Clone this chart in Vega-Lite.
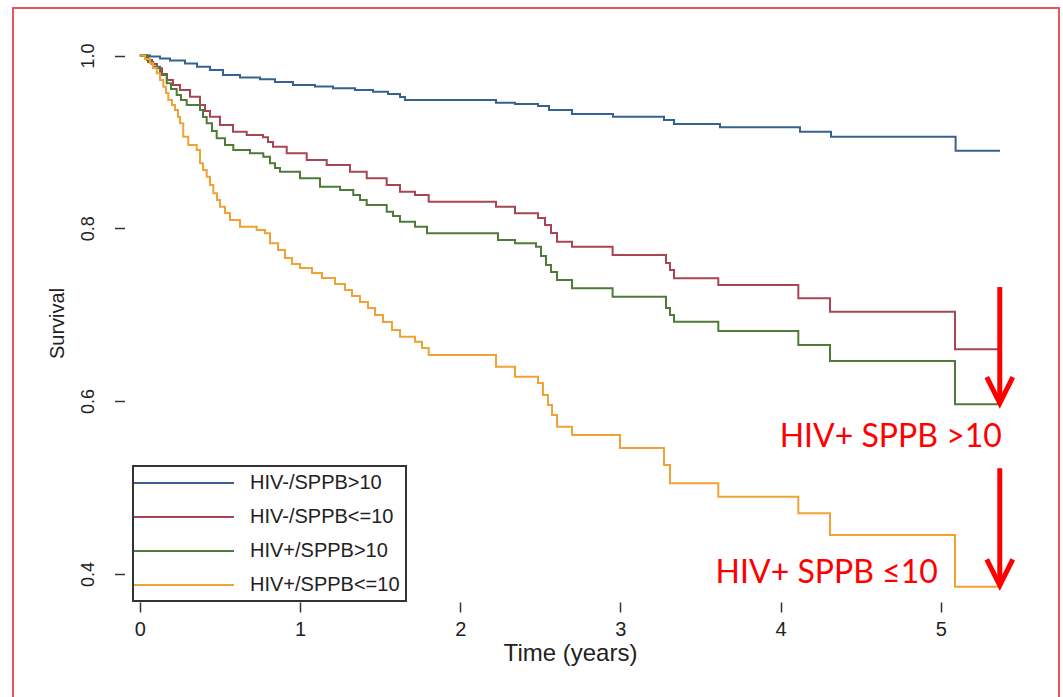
{
  "$schema": "https://vega.github.io/schema/vega-lite/v6.json",
  "width": 1063,
  "height": 697,
  "autosize": {"type": "fit", "contains": "padding"},
  "padding": {"left": 13, "top": 8, "right": 4, "bottom": -3},
  "background": "white",
  "config": {
    "view": {"stroke": "#e8555c", "strokeWidth": 2},
    "font": "Liberation Sans",
    "axis": {"labelFont": "Liberation Sans", "titleFont": "Liberation Sans"},
    "legend": {"labelFont": "Liberation Sans", "strokeWidth": 2}
  },
  "datasets": {
    "km": [
      {"g":"HIV-/SPPB>10","t":0,"s":1},
      {"g":"HIV-/SPPB>10","t":0.0637,"s":0.9988},
      {"g":"HIV-/SPPB>10","t":0.1261,"s":0.9965},
      {"g":"HIV-/SPPB>10","t":0.1885,"s":0.9942},
      {"g":"HIV-/SPPB>10","t":0.2821,"s":0.9907},
      {"g":"HIV-/SPPB>10","t":0.3571,"s":0.987},
      {"g":"HIV-/SPPB>10","t":0.4382,"s":0.9832},
      {"g":"HIV-/SPPB>10","t":0.5194,"s":0.9774},
      {"g":"HIV-/SPPB>10","t":0.6255,"s":0.9745},
      {"g":"HIV-/SPPB>10","t":0.7503,"s":0.9725},
      {"g":"HIV-/SPPB>10","t":0.8439,"s":0.9693},
      {"g":"HIV-/SPPB>10","t":0.9563,"s":0.9659},
      {"g":"HIV-/SPPB>10","t":1.0936,"s":0.9641},
      {"g":"HIV-/SPPB>10","t":1.206,"s":0.962},
      {"g":"HIV-/SPPB>10","t":1.3433,"s":0.9601},
      {"g":"HIV-/SPPB>10","t":1.4557,"s":0.9581},
      {"g":"HIV-/SPPB>10","t":1.5493,"s":0.9554},
      {"g":"HIV-/SPPB>10","t":1.6242,"s":0.952},
      {"g":"HIV-/SPPB>10","t":1.6554,"s":0.9485},
      {"g":"HIV-/SPPB>10","t":2.2235,"s":0.9454},
      {"g":"HIV-/SPPB>10","t":2.3421,"s":0.9439},
      {"g":"HIV-/SPPB>10","t":2.4857,"s":0.9416},
      {"g":"HIV-/SPPB>10","t":2.5543,"s":0.9369},
      {"g":"HIV-/SPPB>10","t":2.6979,"s":0.9323},
      {"g":"HIV-/SPPB>10","t":2.9538,"s":0.9292},
      {"g":"HIV-/SPPB>10","t":3.2722,"s":0.9253},
      {"g":"HIV-/SPPB>10","t":3.3346,"s":0.9207},
      {"g":"HIV-/SPPB>10","t":3.6217,"s":0.9169},
      {"g":"HIV-/SPPB>10","t":4.1211,"s":0.9118},
      {"g":"HIV-/SPPB>10","t":4.3146,"s":0.906},
      {"g":"HIV-/SPPB>10","t":5.0924,"s":0.8898},
      {"g":"HIV-/SPPB>10","t":5.3695,"s":0.8898},

      {"g":"HIV-/SPPB<=10","t":0,"s":1},
      {"g":"HIV-/SPPB<=10","t":0.0449,"s":0.9948},
      {"g":"HIV-/SPPB<=10","t":0.0762,"s":0.9902},
      {"g":"HIV-/SPPB<=10","t":0.1074,"s":0.9852},
      {"g":"HIV-/SPPB<=10","t":0.1386,"s":0.9786},
      {"g":"HIV-/SPPB<=10","t":0.1698,"s":0.9716},
      {"g":"HIV-/SPPB<=10","t":0.2072,"s":0.9659},
      {"g":"HIV-/SPPB<=10","t":0.2509,"s":0.9601},
      {"g":"HIV-/SPPB<=10","t":0.3134,"s":0.9523},
      {"g":"HIV-/SPPB<=10","t":0.3758,"s":0.9427},
      {"g":"HIV-/SPPB<=10","t":0.407,"s":0.9358},
      {"g":"HIV-/SPPB<=10","t":0.4382,"s":0.9292},
      {"g":"HIV-/SPPB<=10","t":0.5006,"s":0.9196},
      {"g":"HIV-/SPPB<=10","t":0.5818,"s":0.9118},
      {"g":"HIV-/SPPB<=10","t":0.6673,"s":0.908},
      {"g":"HIV-/SPPB<=10","t":0.769,"s":0.9053},
      {"g":"HIV-/SPPB<=10","t":0.8002,"s":0.8999},
      {"g":"HIV-/SPPB<=10","t":0.8315,"s":0.8944},
      {"g":"HIV-/SPPB<=10","t":0.917,"s":0.8868},
      {"g":"HIV-/SPPB<=10","t":1.0418,"s":0.8791},
      {"g":"HIV-/SPPB<=10","t":1.1667,"s":0.8733},
      {"g":"HIV-/SPPB<=10","t":1.3121,"s":0.8655},
      {"g":"HIV-/SPPB<=10","t":1.4164,"s":0.8579},
      {"g":"HIV-/SPPB<=10","t":1.5412,"s":0.8501},
      {"g":"HIV-/SPPB<=10","t":1.6242,"s":0.8424},
      {"g":"HIV-/SPPB<=10","t":1.7179,"s":0.8385},
      {"g":"HIV-/SPPB<=10","t":1.8034,"s":0.8308},
      {"g":"HIV-/SPPB<=10","t":2.2235,"s":0.825},
      {"g":"HIV-/SPPB<=10","t":2.3421,"s":0.8174},
      {"g":"HIV-/SPPB<=10","t":2.4857,"s":0.8119},
      {"g":"HIV-/SPPB<=10","t":2.5293,"s":0.8038},
      {"g":"HIV-/SPPB<=10","t":2.5668,"s":0.7946},
      {"g":"HIV-/SPPB<=10","t":2.6043,"s":0.7845},
      {"g":"HIV-/SPPB<=10","t":2.6979,"s":0.7787},
      {"g":"HIV-/SPPB<=10","t":2.9513,"s":0.7691},
      {"g":"HIV-/SPPB<=10","t":3.2846,"s":0.7598},
      {"g":"HIV-/SPPB<=10","t":3.3096,"s":0.7517},
      {"g":"HIV-/SPPB<=10","t":3.3346,"s":0.7421},
      {"g":"HIV-/SPPB<=10","t":3.6111,"s":0.7344},
      {"g":"HIV-/SPPB<=10","t":4.1105,"s":0.719},
      {"g":"HIV-/SPPB<=10","t":4.3084,"s":0.7035},
      {"g":"HIV-/SPPB<=10","t":5.0886,"s":0.66},
      {"g":"HIV-/SPPB<=10","t":5.3695,"s":0.66},

      {"g":"HIV+/SPPB>10","t":0,"s":1},
      {"g":"HIV+/SPPB>10","t":0.0512,"s":0.9925},
      {"g":"HIV+/SPPB>10","t":0.0843,"s":0.987},
      {"g":"HIV+/SPPB>10","t":0.1261,"s":0.9774},
      {"g":"HIV+/SPPB>10","t":0.1679,"s":0.9678},
      {"g":"HIV+/SPPB>10","t":0.1948,"s":0.9612},
      {"g":"HIV+/SPPB>10","t":0.2303,"s":0.9543},
      {"g":"HIV+/SPPB>10","t":0.2572,"s":0.9485},
      {"g":"HIV+/SPPB>10","t":0.2928,"s":0.9427},
      {"g":"HIV+/SPPB>10","t":0.3758,"s":0.9369},
      {"g":"HIV+/SPPB>10","t":0.3945,"s":0.9288},
      {"g":"HIV+/SPPB>10","t":0.4176,"s":0.9215},
      {"g":"HIV+/SPPB>10","t":0.4507,"s":0.9126},
      {"g":"HIV+/SPPB>10","t":0.48,"s":0.9042},
      {"g":"HIV+/SPPB>10","t":0.5318,"s":0.8964},
      {"g":"HIV+/SPPB>10","t":0.5836,"s":0.8906},
      {"g":"HIV+/SPPB>10","t":0.6879,"s":0.8868},
      {"g":"HIV+/SPPB>10","t":0.7709,"s":0.8829},
      {"g":"HIV+/SPPB>10","t":0.8127,"s":0.8752},
      {"g":"HIV+/SPPB>10","t":0.8439,"s":0.8698},
      {"g":"HIV+/SPPB>10","t":0.8752,"s":0.8655},
      {"g":"HIV+/SPPB>10","t":1.0,"s":0.8579},
      {"g":"HIV+/SPPB>10","t":1.1248,"s":0.8481},
      {"g":"HIV+/SPPB>10","t":1.2497,"s":0.8443},
      {"g":"HIV+/SPPB>10","t":1.3327,"s":0.8385},
      {"g":"HIV+/SPPB>10","t":1.3745,"s":0.8328},
      {"g":"HIV+/SPPB>10","t":1.4164,"s":0.827},
      {"g":"HIV+/SPPB>10","t":1.5412,"s":0.8192},
      {"g":"HIV+/SPPB>10","t":1.5805,"s":0.8142},
      {"g":"HIV+/SPPB>10","t":1.6242,"s":0.8076},
      {"g":"HIV+/SPPB>10","t":1.7179,"s":0.8019},
      {"g":"HIV+/SPPB>10","t":1.7928,"s":0.7942},
      {"g":"HIV+/SPPB>10","t":2.236,"s":0.7865},
      {"g":"HIV+/SPPB>10","t":2.3421,"s":0.7826},
      {"g":"HIV+/SPPB>10","t":2.4732,"s":0.7787},
      {"g":"HIV+/SPPB>10","t":2.5044,"s":0.7679},
      {"g":"HIV+/SPPB>10","t":2.5356,"s":0.7575},
      {"g":"HIV+/SPPB>10","t":2.5668,"s":0.7494},
      {"g":"HIV+/SPPB>10","t":2.6043,"s":0.7402},
      {"g":"HIV+/SPPB>10","t":2.6979,"s":0.7306},
      {"g":"HIV+/SPPB>10","t":2.9513,"s":0.7208},
      {"g":"HIV+/SPPB>10","t":3.2846,"s":0.7078},
      {"g":"HIV+/SPPB>10","t":3.3096,"s":0.6997},
      {"g":"HIV+/SPPB>10","t":3.3346,"s":0.6919},
      {"g":"HIV+/SPPB>10","t":3.6111,"s":0.6811},
      {"g":"HIV+/SPPB>10","t":4.1105,"s":0.6649},
      {"g":"HIV+/SPPB>10","t":4.3084,"s":0.6464},
      {"g":"HIV+/SPPB>10","t":5.0886,"s":0.5963},
      {"g":"HIV+/SPPB>10","t":5.3695,"s":0.5963},

      {"g":"HIV+/SPPB<=10","t":0,"s":1},
      {"g":"HIV+/SPPB<=10","t":0.0325,"s":0.9959},
      {"g":"HIV+/SPPB<=10","t":0.0637,"s":0.991},
      {"g":"HIV+/SPPB<=10","t":0.0824,"s":0.9855},
      {"g":"HIV+/SPPB<=10","t":0.1055,"s":0.9794},
      {"g":"HIV+/SPPB<=10","t":0.1261,"s":0.9716},
      {"g":"HIV+/SPPB<=10","t":0.1467,"s":0.9639},
      {"g":"HIV+/SPPB<=10","t":0.1635,"s":0.9566},
      {"g":"HIV+/SPPB<=10","t":0.1779,"s":0.9485},
      {"g":"HIV+/SPPB<=10","t":0.201,"s":0.9427},
      {"g":"HIV+/SPPB<=10","t":0.2197,"s":0.9369},
      {"g":"HIV+/SPPB<=10","t":0.2385,"s":0.9288},
      {"g":"HIV+/SPPB<=10","t":0.2509,"s":0.9215},
      {"g":"HIV+/SPPB<=10","t":0.2715,"s":0.906},
      {"g":"HIV+/SPPB<=10","t":0.3027,"s":0.8964},
      {"g":"HIV+/SPPB<=10","t":0.3552,"s":0.8906},
      {"g":"HIV+/SPPB<=10","t":0.3758,"s":0.8752},
      {"g":"HIV+/SPPB<=10","t":0.3945,"s":0.8675},
      {"g":"HIV+/SPPB<=10","t":0.4176,"s":0.8597},
      {"g":"HIV+/SPPB<=10","t":0.4382,"s":0.8501},
      {"g":"HIV+/SPPB<=10","t":0.4588,"s":0.8405},
      {"g":"HIV+/SPPB<=10","t":0.4819,"s":0.8328},
      {"g":"HIV+/SPPB<=10","t":0.5006,"s":0.825},
      {"g":"HIV+/SPPB<=10","t":0.5318,"s":0.8177},
      {"g":"HIV+/SPPB<=10","t":0.563,"s":0.8096},
      {"g":"HIV+/SPPB<=10","t":0.6255,"s":0.8019},
      {"g":"HIV+/SPPB<=10","t":0.7297,"s":0.798},
      {"g":"HIV+/SPPB<=10","t":0.7815,"s":0.7942},
      {"g":"HIV+/SPPB<=10","t":0.8127,"s":0.7826},
      {"g":"HIV+/SPPB<=10","t":0.8627,"s":0.7749},
      {"g":"HIV+/SPPB<=10","t":0.9064,"s":0.7656},
      {"g":"HIV+/SPPB<=10","t":0.9501,"s":0.7587},
      {"g":"HIV+/SPPB<=10","t":1.0,"s":0.7541},
      {"g":"HIV+/SPPB<=10","t":1.0749,"s":0.7483},
      {"g":"HIV+/SPPB<=10","t":1.1373,"s":0.7425},
      {"g":"HIV+/SPPB<=10","t":1.2185,"s":0.7355},
      {"g":"HIV+/SPPB<=10","t":1.2809,"s":0.7286},
      {"g":"HIV+/SPPB<=10","t":1.3246,"s":0.7216},
      {"g":"HIV+/SPPB<=10","t":1.3745,"s":0.7147},
      {"g":"HIV+/SPPB<=10","t":1.4245,"s":0.7078},
      {"g":"HIV+/SPPB<=10","t":1.4682,"s":0.6997},
      {"g":"HIV+/SPPB<=10","t":1.5181,"s":0.6916},
      {"g":"HIV+/SPPB<=10","t":1.5743,"s":0.6823},
      {"g":"HIV+/SPPB<=10","t":1.6242,"s":0.6745},
      {"g":"HIV+/SPPB<=10","t":1.7179,"s":0.6688},
      {"g":"HIV+/SPPB<=10","t":1.7615,"s":0.6615},
      {"g":"HIV+/SPPB<=10","t":1.8034,"s":0.6534},
      {"g":"HIV+/SPPB<=10","t":2.2235,"s":0.6398},
      {"g":"HIV+/SPPB<=10","t":2.3421,"s":0.6282},
      {"g":"HIV+/SPPB<=10","t":2.4857,"s":0.6209},
      {"g":"HIV+/SPPB<=10","t":2.5169,"s":0.6071},
      {"g":"HIV+/SPPB<=10","t":2.5481,"s":0.5955},
      {"g":"HIV+/SPPB<=10","t":2.573,"s":0.5839},
      {"g":"HIV+/SPPB<=10","t":2.6043,"s":0.5704},
      {"g":"HIV+/SPPB<=10","t":2.6979,"s":0.5608},
      {"g":"HIV+/SPPB<=10","t":2.9975,"s":0.5457},
      {"g":"HIV+/SPPB<=10","t":3.2722,"s":0.526},
      {"g":"HIV+/SPPB<=10","t":3.3096,"s":0.5049},
      {"g":"HIV+/SPPB<=10","t":3.6111,"s":0.4894},
      {"g":"HIV+/SPPB<=10","t":4.1105,"s":0.4701},
      {"g":"HIV+/SPPB<=10","t":4.3084,"s":0.445},
      {"g":"HIV+/SPPB<=10","t":5.0886,"s":0.3852},
      {"g":"HIV+/SPPB<=10","t":5.3695,"s":0.3852}
    ],
    "arrows": [
      {"t": 5.368, "top": 0.732, "tip": 0.5977, "shaftEnd": 0.603},
      {"t": 5.368, "top": 0.5223, "tip": 0.3867, "shaftEnd": 0.392}
    ],
    "notes": [
      {"t": 5.381, "s": 0.5467, "label": "HIV+ SPPB >10"},
      {"t": 4.981, "s": 0.389, "label": "HIV+ SPPB ≤10"}
    ]
  },
  "layer": [
    {
      "data": {"name": "km"},
      "mark": {"type": "line", "interpolate": "step-after", "strokeWidth": 2},
      "encoding": {
        "x": {
          "field": "t", "type": "quantitative",
          "scale": {"domain": [-0.7915, 5.7378], "nice": false, "zero": false},
          "axis": {
            "values": [0, 1, 2, 3, 4, 5], "format": "d", "offset": -98, "domain": false, "grid": false,
            "tickSize": 10, "tickColor": "#333", "tickWidth": 1.5,
            "labelFontSize": 20, "labelPadding": 7, "labelColor": "#222", "labelFlush": false,
            "title": "Time (years)", "titleFontSize": 24, "titleFontWeight": "normal", "titleColor": "#222",
            "titleX": 557, "titleY": 58, "titleBaseline": "alphabetic", "titleAlign": "center"
          }
        },
        "y": {
          "field": "s", "type": "quantitative",
          "scale": {"domain": [0.25405, 1.05498], "nice": false, "zero": false},
          "axis": {
            "values": [0.4, 0.6, 0.8, 1.0], "format": ".1f", "offset": -111.5, "domain": false, "grid": false,
            "tickSize": 10, "tickColor": "#333", "tickWidth": 1.5,
            "labelAngle": 270, "labelAlign": "center", "labelBaseline": "alphabetic", "labelPadding": 21,
            "labelFontSize": 18, "labelColor": "#222",
            "title": "Survival", "titleAngle": 270, "titleX": -67, "titleY": 315,
            "titleAlign": "center", "titleBaseline": "middle", "titleFontSize": 20, "titleFontWeight": "normal", "titleColor": "#222"
          }
        },
        "color": {
          "field": "g", "type": "nominal",
          "scale": {
            "domain": ["HIV-/SPPB>10", "HIV-/SPPB<=10", "HIV+/SPPB>10", "HIV+/SPPB<=10"],
            "range": ["#35628f", "#a84553", "#4f7a38", "#f0a235"]
          },
          "legend": {
            "orient": "none", "legendX": 120, "legendY": 458, "title": null,
            "symbolType": "M-1.6,0H8.4", "symbolSize": 400, "symbolStrokeWidth": 2,
            "labelFontSize": 20, "labelColor": "#222", "labelOffset": 89,
            "rowPadding": 13, "padding": 6, "strokeColor": "#333"
          }
        }
      }
    },
    {
      "mark": {"type": "rule", "color": "#333", "strokeWidth": 1.5},
      "encoding": {
        "x": {"datum": -0.0924, "type": "quantitative", "scale": {"domain": [-0.7915, 5.7378], "nice": false, "zero": false}},
        "x2": {"datum": 5.463},
        "y": {"datum": 0.3678, "type": "quantitative", "scale": {"domain": [0.25405, 1.05498], "nice": false, "zero": false}}
      }
    },
    {
      "mark": {"type": "rule", "color": "#333", "strokeWidth": 1.5},
      "encoding": {
        "x": {"datum": -0.0924, "type": "quantitative", "scale": {"domain": [-0.7915, 5.7378], "nice": false, "zero": false}},
        "y": {"datum": 0.3678, "type": "quantitative", "scale": {"domain": [0.25405, 1.05498], "nice": false, "zero": false}},
        "y2": {"datum": 1.016}
      }
    },
    {
      "data": {"name": "arrows"},
      "mark": {"type": "rule", "color": "#ff0000", "strokeWidth": 5},
      "encoding": {
        "x": {"field": "t", "type": "quantitative", "scale": {"domain": [-0.7915, 5.7378], "nice": false, "zero": false}},
        "y": {"field": "top", "type": "quantitative", "scale": {"domain": [0.25405, 1.05498], "nice": false, "zero": false}},
        "y2": {"field": "shaftEnd"}
      }
    },
    {
      "data": {"name": "arrows"},
      "mark": {"type": "point", "shape": "M-1,-2L0,0L1,-2", "filled": false, "stroke": "#ff0000", "strokeWidth": 5, "size": 676, "opacity": 1},
      "encoding": {
        "x": {"field": "t", "type": "quantitative", "scale": {"domain": [-0.7915, 5.7378], "nice": false, "zero": false}},
        "y": {"field": "tip", "type": "quantitative", "scale": {"domain": [0.25405, 1.05498], "nice": false, "zero": false}}
      }
    },
    {
      "data": {"name": "notes"},
      "mark": {"type": "text", "align": "right", "baseline": "alphabetic", "font": "Lato", "fontSize": 32, "color": "#ff0000"},
      "encoding": {
        "x": {"field": "t", "type": "quantitative", "scale": {"domain": [-0.7915, 5.7378], "nice": false, "zero": false}},
        "y": {"field": "s", "type": "quantitative", "scale": {"domain": [0.25405, 1.05498], "nice": false, "zero": false}},
        "text": {"field": "label"}
      }
    }
  ]
}
